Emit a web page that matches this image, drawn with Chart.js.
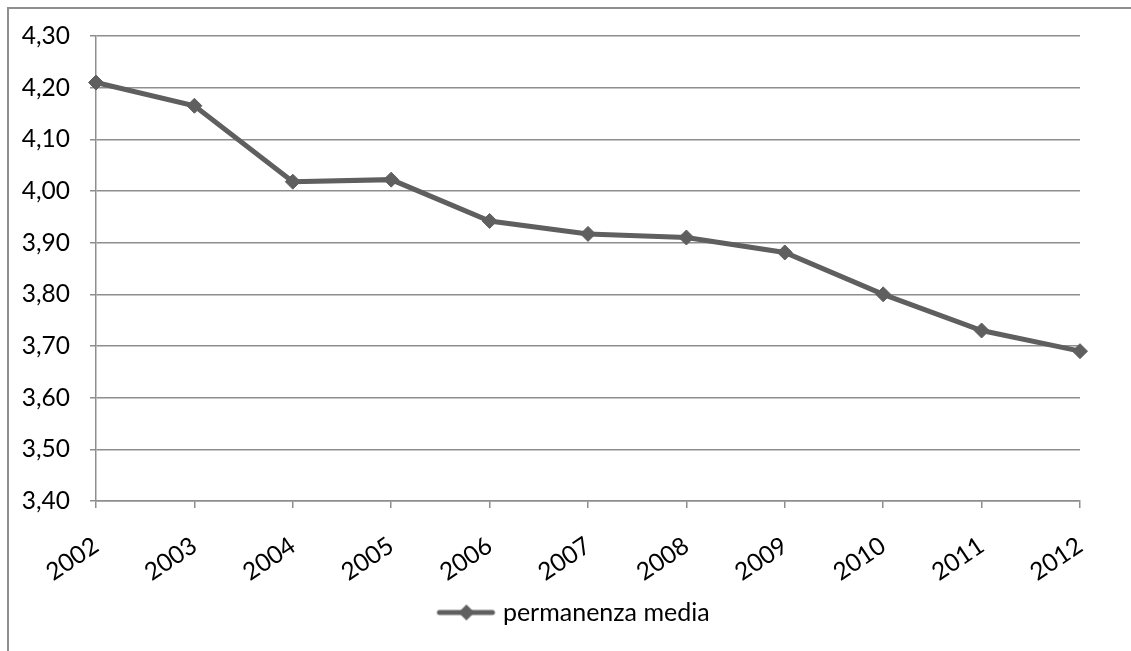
<!DOCTYPE html>
<html>
<head>
<meta charset="utf-8">
<script src="https://cdn.jsdelivr.net/npm/chart.js@4.4.1/dist/chart.umd.min.js"></script>
<style>
  html, body { margin: 0; padding: 0; background: #fff; overflow: hidden; }
  #marco {
    position: absolute; left: 7px; top: 7px; width: 1300px; height: 800px;
    border-left: 2px solid #8e8e8e; border-top: 2px solid #8e8e8e;
  }
  #contenedor { position: absolute; left: 0; top: 0; width: 1131px; height: 651px; }
</style>
</head>
<body>
<div id="marco"></div>
<div id="contenedor"><canvas id="grafico"></canvas></div>
<script>
// anni e permanenza media (giorni)
const anni = ["2002", "2003", "2004", "2005", "2006", "2007", "2008", "2009", "2010", "2011", "2012"];
const permanenzaMedia = [4.21, 4.165, 4.018, 4.022, 3.942, 3.917, 3.910, 3.881, 3.800, 3.730, 3.690];
const tickAsseY = [3.40, 3.50, 3.60, 3.70, 3.80, 3.90, 4.00, 4.10, 4.20, 4.30];
const nomeSerie = "permanenza media";

const grigio = "#5f5f5f";
const fontAssi = { family: "Lato", size: 24.5 };
const fontLegenda = { family: "Lato", size: 25 };

// simbolo della legenda: linea con rombo al centro
function simboloLegenda() {
  const c = document.createElement("canvas");
  c.width = 62;
  c.height = 18;
  const g = c.getContext("2d");
  g.strokeStyle = grigio;
  g.lineWidth = 5;
  g.lineCap = "round";
  g.beginPath();
  g.moveTo(5, 9);
  g.lineTo(58, 9);
  g.stroke();
  g.fillStyle = grigio;
  g.beginPath();
  g.moveTo(32, 1);
  g.lineTo(40, 9);
  g.lineTo(32, 17);
  g.lineTo(24, 9);
  g.closePath();
  g.fill();
  return c;
}

// sposta la legenda verso il centro della pagina
const spostaLegenda = {
  id: "spostaLegenda",
  afterLayout(chart) {
    const l = chart.legend;
    if (l) {
      l.left += 35;
      l.right += 35;
    }
  },
};

const ctx = document.getElementById("grafico").getContext("2d");

new Chart(ctx, {
  type: "line",
  data: {
    labels: anni,
    datasets: [
      {
        label: nomeSerie,
        data: permanenzaMedia,
        borderColor: grigio,
        backgroundColor: grigio,
        borderWidth: 5,
        pointStyle: "rectRot",
        pointRadius: 7.5,
        pointBorderWidth: 1,
        pointBackgroundColor: grigio,
        pointBorderColor: grigio,
        tension: 0,
      },
    ],
  },
  options: {
    responsive: true,
    maintainAspectRatio: false,
    animation: false,
    layout: {
      padding: { left: 0, right: 51, top: 36, bottom: 16 },
    },
    plugins: {
      tooltip: { enabled: false },
      legend: {
        display: true,
        position: "bottom",
        labels: {
          usePointStyle: true,
          pointStyle: simboloLegenda(),
          pointStyleWidth: 50,
          padding: 10,
          color: "#000",
          font: fontLegenda,
        },
      },
    },
    scales: {
      x: {
        offset: false,
        afterFit: (scala) => {
          scala.height = 89;
        },
        grid: {
          drawOnChartArea: false,
          drawTicks: true,
          tickLength: 7,
          color: "#8e8e8e",
          lineWidth: 1.5,
        },
        border: { display: true, color: "#8e8e8e", width: 1.5 },
        ticks: {
          autoSkip: false,
          minRotation: 34,
          maxRotation: 34,
          padding: 23,
          color: "#000",
          font: fontAssi,
        },
      },
      y: {
        min: 3.4,
        max: 4.3,
        afterFit: (scala) => {
          scala.width = 96;
        },
        afterBuildTicks: (scala) => {
          scala.ticks = tickAsseY.map((v) => ({ value: v }));
        },
        grid: {
          drawTicks: true,
          tickLength: 6,
          color: "#8e8e8e",
          lineWidth: 1.5,
        },
        border: { display: true, color: "#8e8e8e", width: 1.5 },
        ticks: {
          padding: 20,
          color: "#000",
          font: fontAssi,
          callback: (v) => Number(v).toFixed(2).replace(".", ","),
        },
      },
    },
  },
  plugins: [spostaLegenda],
});
</script>
</body>
</html>
